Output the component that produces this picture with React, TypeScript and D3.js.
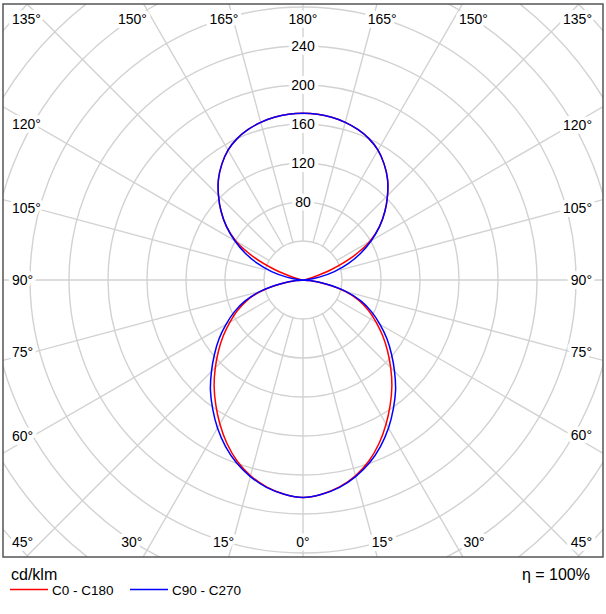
import React from 'react';
import * as d3 from 'd3';

// Luminous intensity (cd/klm), gamma 0..180 step 5
const gammas = [0, 5, 10, 15, 20, 25, 30, 35, 40, 45, 50, 55, 60, 65, 70, 75, 80, 85, 90,
  95, 100, 105, 110, 115, 120, 125, 130, 135, 140, 145, 150, 155, 160, 165, 170, 175, 180];
const c0c180 = [223, 220.5, 215.5, 207.8, 197.6, 184.8, 170.5, 156, 141.8, 127.2, 113.2, 99.8, 86.7, 74.2, 61, 44.8, 23.5, 7, 0,
  1, 3, 10, 30, 56, 79, 95.9, 109.7, 122.6, 134.9, 145.1, 153.8, 160, 164.3, 167.4, 169.4, 170.6, 171];
const c90c270 = [223, 220.5, 215.9, 208.7, 199.5, 188.2, 175.4, 161.5, 147.7, 132.8, 118.5, 105.1, 91.3, 77.9, 63.5, 46, 24, 7, 0,
  5.1, 16.9, 33.3, 49.7, 65.6, 81, 95.9, 109.7, 122.6, 134.9, 145.1, 153.8, 160, 164.3, 167.4, 169.4, 170.6, 171];

const ringValues = [40, 80, 120, 160, 200, 240, 280, 320, 360, 400, 440];
const ringLabelValues = [80, 120, 160, 200, 240];
const spokeAngles = [0, 15, 30, 45, 60, 75, 90, 105, 120, 135, 150, 165, 180];
const unitLabel = 'cd/klm';
const efficiencyLabel = 'η = 100%';
const seriesNames = ['C0 - C180', 'C90 - C270'];
const seriesColors = ['#ff0000', '#0000ff'];

const W = 606;
const H = 614;
const frame = { left: 3, top: 4, right: 603, bottom: 557 };
const cx = 303;
const cy = 280;
const FONT = '"Liberation Sans", Arial, sans-serif';

const rScale = d3.scaleLinear().domain([0, 40]).range([0, 39]);

function toRad(g: number) {
  return (g * Math.PI) / 180;
}

function curvePath(values: number[]) {
  const pts: { a: number; v: number }[] = [];
  // right half: gamma 180 -> 0  (angle measured clockwise from 12 o'clock)
  for (let i = gammas.length - 1; i >= 0; i--) {
    pts.push({ a: Math.PI - toRad(gammas[i]), v: values[i] });
  }
  // left half: gamma 5 -> 175
  for (let i = 1; i < gammas.length - 1; i++) {
    pts.push({ a: Math.PI + toRad(gammas[i]), v: values[i] });
  }
  const line = d3
    .lineRadial<{ a: number; v: number }>()
    .angle((d) => d.a)
    .radius((d) => rScale(d.v))
    .curve(d3.curveCatmullRomClosed.alpha(0.5));
  return line(pts) || '';
}

function labelPos(g: number, s: number) {
  const rad = toRad(g);
  const sx = s * Math.sin(rad);
  const sy = Math.cos(rad);
  const leftX = frame.left + 9;
  const rightX = frame.right - 11;
  const topY = frame.top + 14.5;
  const botY = frame.bottom - 15;
  const tx = Math.abs(sx) < 1e-9 ? Infinity : (sx > 0 ? frame.right - cx : cx - frame.left) / Math.abs(sx);
  const ty = Math.abs(sy) < 1e-9 ? Infinity : (sy > 0 ? frame.bottom - cy : cy - frame.top) / Math.abs(sy);
  if (tx < ty) {
    const xc = s > 0 ? frame.right - 26 : frame.left + 23.5;
    const t = Math.abs(xc - cx) / Math.abs(sx);
    const y = cy + t * sy * 0.977;
    return { x: s > 0 ? rightX : leftX, y, anchor: s > 0 ? 'end' : 'start' };
  }
  const y = sy > 0 ? botY : topY;
  const d = sy > 0 ? frame.bottom - cy : cy - frame.top;
  const x = cx + (1.07 * d * sx) / Math.abs(sy);
  const halfW = 15;
  if (x - halfW < leftX) return { x: leftX, y, anchor: 'start' };
  if (x + halfW > rightX) return { x: rightX, y, anchor: 'end' };
  return { x, y, anchor: 'middle' };
}

export default function App() {
  const spokes: { g: number; s: number }[] = [];
  spokeAngles.forEach((g) => {
    if (g === 0 || g === 180) spokes.push({ g, s: 1 });
    else {
      spokes.push({ g, s: -1 });
      spokes.push({ g, s: 1 });
    }
  });
  const r0 = rScale(40);
  const rMax = 800;
  const gridColor = '#d2d2d2';

  return (
    <svg
      width={W}
      height={H}
      style={{ position: 'absolute', left: 0, top: 0, background: '#fff' }}
      fontFamily={FONT}
    >
      <defs>
        <clipPath id="frameClip">
          <rect x={frame.left} y={frame.top} width={frame.right - frame.left} height={frame.bottom - frame.top} />
        </clipPath>
      </defs>
      <rect x={0} y={0} width={W} height={H} fill="#fff" />
      <g clipPath="url(#frameClip)">
        {ringValues.map((v) => (
          <circle key={v} cx={cx} cy={cy} r={rScale(v)} fill="none" stroke={gridColor} strokeWidth={1.4} />
        ))}
        {spokes.map(({ g, s }) => {
          const rad = toRad(g);
          const dx = s * Math.sin(rad);
          const dy = Math.cos(rad);
          return (
            <line
              key={`${g}_${s}`}
              x1={cx + dx * r0}
              y1={cy + dy * r0}
              x2={cx + dx * rMax}
              y2={cy + dy * rMax}
              stroke={gridColor}
              strokeWidth={1.4}
            />
          );
        })}
        {ringLabelValues.map((v) => (
          <text
            key={v}
            x={cx}
            y={cy - rScale(v)}
            textAnchor="middle"
            dominantBaseline="central"
            fontSize={14}
            fill="#000"
            stroke="#fff"
            strokeWidth={8}
            strokeLinejoin="round"
            paintOrder="stroke"
          >
            {v}
          </text>
        ))}
        {spokes.map(({ g, s }) => {
          const p = labelPos(g, s);
          return (
            <text
              key={`l_${g}_${s}`}
              x={p.x}
              y={p.y}
              textAnchor={p.anchor as any}
              dominantBaseline="central"
              fontSize={14}
              fill="#000"
              stroke="#fff"
              strokeWidth={8}
              strokeLinejoin="round"
              paintOrder="stroke"
            >
              {`${g}°`}
            </text>
          );
        })}
        <g transform={`translate(${cx},${cy})`}>
          <path d={curvePath(c0c180)} fill="none" stroke={seriesColors[0]} strokeWidth={1.5} />
          <path d={curvePath(c90c270)} fill="none" stroke={seriesColors[1]} strokeWidth={1.5} />
        </g>
      </g>
      <rect
        x={frame.left}
        y={frame.top}
        width={frame.right - frame.left}
        height={frame.bottom - frame.top}
        fill="none"
        stroke="#555"
        strokeWidth={1.5}
      />
      <text x={11} y={580} fontSize={16} fill="#000">
        {unitLabel}
      </text>
      <text x={590} y={580} fontSize={16} fill="#000" textAnchor="end">
        {efficiencyLabel}
      </text>
      {seriesNames.map((name, i) => {
        const x0 = i === 0 ? 10 : 130;
        return (
          <g key={name}>
            <line x1={x0} x2={x0 + 38} y1={589.5} y2={589.5} stroke={seriesColors[i]} strokeWidth={1.5} />
            <text x={x0 + 42} y={594.5} fontSize={13.5} fill="#000">
              {name}
            </text>
          </g>
        );
      })}
    </svg>
  );
}
